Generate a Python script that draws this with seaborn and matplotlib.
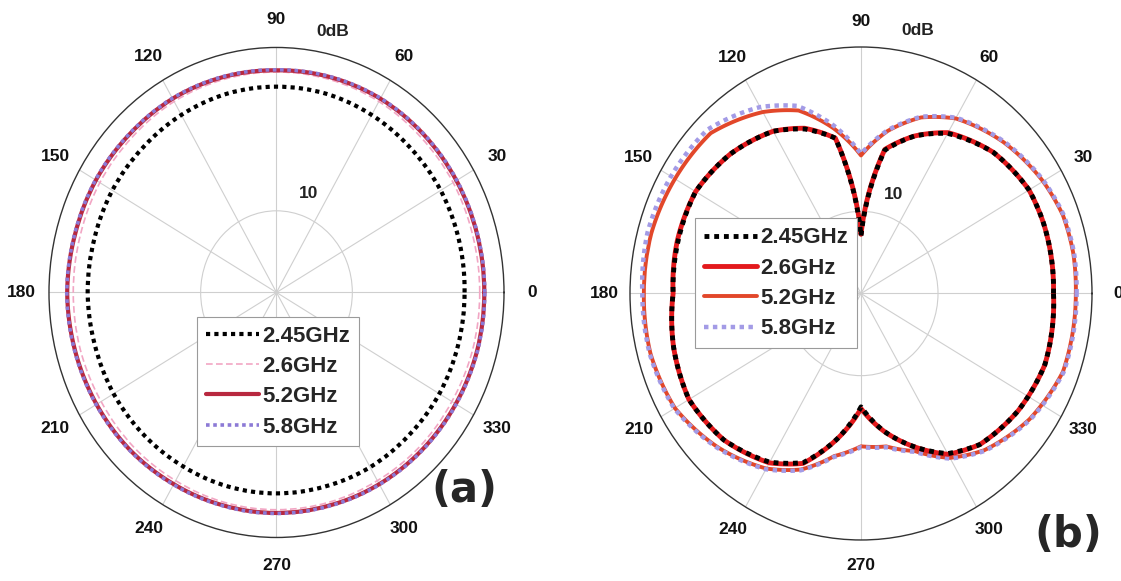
import numpy as np
import matplotlib
matplotlib.use("Agg")
import matplotlib.pyplot as plt
import seaborn as sns

# _____________________________________________
# Data (gain in dB)
# _____________________________________________

freq_labels = ["2.45GHz", "2.6GHz", "5.2GHz", "5.8GHz"]
theta_ticks = [0, 30, 60, 90, 120, 150, 180, 210, 240, 270, 300, 330]

# (a) omnidirectional plane, every 15 deg
angles_a = [0, 15, 30, 45, 60, 75, 90, 105, 120, 135, 150, 165, 180,
            195, 210, 225, 240, 255, 270, 285, 300, 315, 330, 345, 360]
gain_a_245 = [-2.6, -2.55, -2.5, -2.5, -2.45, -2.4, -2.4, -2.4, -2.45, -2.5, -2.5, -2.55, -2.55,
              -2.6, -2.6, -2.65, -2.7, -2.7, -2.7, -2.7, -2.65, -2.65, -2.6, -2.6, -2.6]
gain_a_26 = [-1.6, -1.6, -1.55, -1.55, -1.5, -1.5, -1.5, -1.5, -1.5, -1.55, -1.55, -1.6, -1.6,
             -1.6, -1.65, -1.65, -1.7, -1.7, -1.7, -1.7, -1.7, -1.65, -1.65, -1.6, -1.6]
gain_a_52 = [-1.3, -1.3, -1.3, -1.3, -1.3, -1.35, -1.4, -1.35, -1.3, -1.3, -1.25, -1.25, -1.2,
             -1.25, -1.3, -1.35, -1.45, -1.5, -1.5, -1.5, -1.45, -1.4, -1.35, -1.3, -1.3]
gain_a_58 = [-1.27, -1.27, -1.27, -1.27, -1.27, -1.32, -1.37, -1.32, -1.27, -1.27, -1.22, -1.22, -1.17,
             -1.22, -1.27, -1.32, -1.42, -1.47, -1.47, -1.47, -1.42, -1.37, -1.32, -1.27, -1.27]

# (b) plane with nulls near 90 / 270 deg
angles_b = [0, 10, 20, 30, 45, 60, 70, 80, 90, 100, 110, 120, 135, 150, 165, 180,
            195, 210, 225, 240, 250, 260, 270, 280, 290, 300, 310, 325, 340, 350, 360]
gain_b_245 = [-2.5, -2.45, -2.4, -2.4, -2.85, -3.75, -4.8, -6.15, -11.5, -5.4, -4.35, -3.6, -3.0, -2.6, -2.7, -2.8,
              -2.4, -2.1, -2.4, -3.15, -4.05, -6.0, -8.1, -6.5, -5.1, -3.75, -3.0, -2.55, -2.3, -2.4, -2.5]
gain_b_26 = [-2.5, -2.45, -2.4, -2.4, -2.85, -3.7, -4.8, -6.1, -11.4, -5.4, -4.3, -3.6, -3.0, -2.6, -2.65, -2.8,
             -2.4, -2.1, -2.4, -3.1, -4.0, -6.0, -8.0, -6.5, -5.1, -3.7, -3.0, -2.55, -2.3, -2.4, -2.5]
gain_b_52 = [-1.05, -1.0, -1.05, -1.35, -1.95, -2.7, -3.6, -4.95, -6.6, -4.8, -3.15, -2.25, -1.2, -1.05, -0.9, -0.9,
             -0.85, -1.05, -1.8, -2.7, -3.6, -4.95, -5.7, -5.55, -4.8, -3.45, -2.55, -1.65, -1.05, -1.05, -1.05]
gain_b_58 = [-1.0, -0.95, -1.0, -1.3, -1.9, -2.65, -3.55, -4.9, -6.5, -4.6, -2.85, -1.9, -0.9, -0.75, -0.65, -0.8,
             -0.8, -1.0, -1.75, -2.65, -3.55, -4.9, -5.65, -5.5, -4.75, -3.4, -2.5, -1.6, -1.0, -1.0, -1.0]

R_MIN = -15
R_MAX = 0

# _____________________________________________
# Plot helpers
# _____________________________________________

sns.set_theme(style="white")
plt.rcParams["font.family"] = ["Liberation Sans", "DejaVu Sans"]
plt.rcParams["font.weight"] = "bold"


def style_polar(ax, pad=7):
    ax.set_aspect("auto")
    ax.set_ylim(R_MIN, R_MAX)
    ax.set_thetagrids(theta_ticks, [str(t) for t in theta_ticks],
                      fontsize=12.5, fontweight="bold")
    ax.tick_params(axis="x", pad=pad, colors="#111111")
    ax.set_rgrids([-10], labels=[""])
    ax.xaxis.grid(True, color="#cfcfcf", lw=0.8)
    ax.yaxis.grid(True, color="#cfcfcf", lw=0.8)
    ax.spines["polar"].set_color("#333333")
    ax.spines["polar"].set_linewidth(1.0)
    ax.set_xlabel("")
    ax.set_ylabel("")
    ax.text(np.deg2rad(71), -8.6, "10", ha="center", va="center",
            fontsize=12.5, fontweight="bold", color="#222222")
    ax.text(np.deg2rad(77), 1.4, "0dB", ha="center", va="center",
            fontsize=12.5, fontweight="bold", color="#222222")
    # follow the polar grid between read points (arcs instead of chords)
    for line in ax.lines:
        line.get_path()._interpolation_steps = 24


def draw(ax, angles, gain, **kw):
    sns.lineplot(x=np.deg2rad(angles), y=gain, ax=ax, sort=False,
                 estimator=None, **kw)


fig = plt.figure(figsize=(11.21, 5.81), dpi=100)
ax_a = fig.add_axes([0.0437, 0.0749, 0.4059, 0.8434], projection="polar")
ax_b = fig.add_axes([630 / 1121, 0.0706, 462 / 1121, 0.8485], projection="polar")

# (a)
draw(ax_a, angles_a, gain_a_245, color="black", lw=3, linestyle=(0, (1, 1)),
     label=freq_labels[0], zorder=5)
draw(ax_a, angles_a, gain_a_26, color="#f2a6c4", lw=1.2, linestyle=(0, (4, 2)),
     label=freq_labels[1], zorder=3)
draw(ax_a, angles_a, gain_a_52, color="#b8283f", lw=3, linestyle="-",
     label=freq_labels[2], zorder=3)
draw(ax_a, angles_a, gain_a_58, color="#8c7ad6", lw=2.6, linestyle=(0, (1, 1)),
     label=freq_labels[3], zorder=4)

# (b)
draw(ax_b, angles_b, gain_b_245, color="black", lw=3.5, linestyle=(0, (1, 1)),
     label=freq_labels[0], zorder=5)
draw(ax_b, angles_b, gain_b_26, color="#e3191c", lw=3.5, linestyle="-",
     label=freq_labels[1], zorder=4)
draw(ax_b, angles_b, gain_b_52, color="#e2472a", lw=2.8, linestyle="-",
     label=freq_labels[2], zorder=2)
draw(ax_b, angles_b, gain_b_58, color="#a39be6", lw=3.2, linestyle=(0, (1, 1)),
     label=freq_labels[3], zorder=3)

style_polar(ax_a, pad=7)
style_polar(ax_b, pad=5.5)

leg_kw = dict(loc="upper left", bbox_transform=fig.transFigure, borderaxespad=0,
              frameon=True, fancybox=False, edgecolor="#9a9a9a", framealpha=1,
              handlelength=2.4, handletextpad=0.15, borderpad=0.4,
              labelspacing=0.42, prop={"size": 16, "weight": "bold"})
leg_a = ax_a.legend(bbox_to_anchor=(0.1755, 0.455), **leg_kw)
leg_b = ax_b.legend(bbox_to_anchor=(0.620, 0.624), **leg_kw)
for leg in (leg_a, leg_b):
    leg.get_frame().set_linewidth(0.8)
    leg.set_zorder(10)

fig.text(464 / 1121, 1 - 490 / 581, "(a)", fontsize=30, fontweight="bold",
         family="DejaVu Sans", ha="center", va="center")
fig.text(1068 / 1121, 1 - 535 / 581, "(b)", fontsize=30, fontweight="bold",
         family="DejaVu Sans", ha="center", va="center")

fig.savefig("out.png", dpi=100)
